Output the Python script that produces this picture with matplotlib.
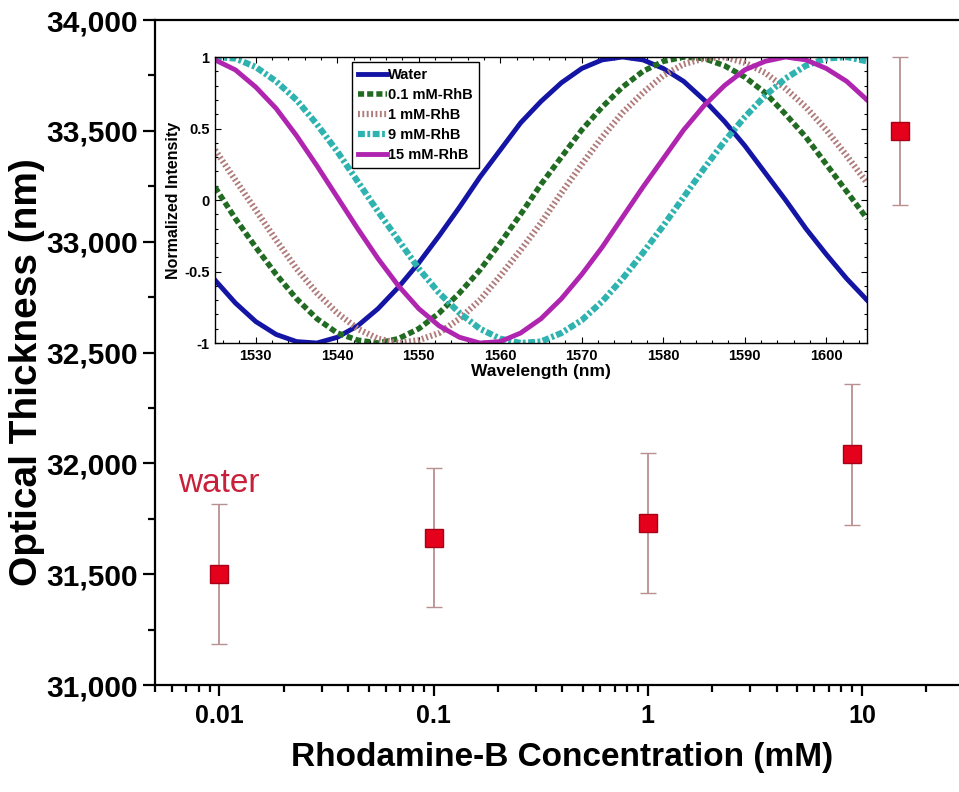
import numpy as np
import matplotlib
matplotlib.use("Agg")
import matplotlib.pyplot as plt
from matplotlib.ticker import MultipleLocator, FuncFormatter, LogLocator, NullFormatter

plt.rcParams['font.family'] = ['Liberation Sans', 'DejaVu Sans']
plt.rcParams['font.weight'] = 'bold'
plt.rcParams['axes.labelweight'] = 'bold'

# main plot: optical thickness vs concentration
conc = [0.01, 0.1, 1, 9, 15]
thickness = [31500, 31665, 31730, 32040, 33500]
thickness_err = [315, 315, 315, 320, 335]

# inset: normalized spectra (read every 2.5 nm)
wavelength = np.arange(1525, 1607.5, 2.5)
spec_water = [-0.56, -0.72, -0.85, -0.94, -0.99, -1.00, -0.96, -0.88, -0.76, -0.61, -0.44,
              -0.25, -0.05, 0.16, 0.35, 0.54, 0.69, 0.82, 0.92, 0.98, 1.00, 0.98, 0.92,
              0.83, 0.70, 0.55, 0.38, 0.19, -0.00, -0.20, -0.38, -0.55, -0.70]
spec_01 = [0.09, -0.13, -0.33, -0.52, -0.69, -0.83, -0.93, -0.98, -1.00, -0.97, -0.90,
           -0.79, -0.65, -0.49, -0.30, -0.10, 0.11, 0.30, 0.49, 0.65, 0.79, 0.90, 0.97,
           1.00, 0.99, 0.94, 0.86, 0.75, 0.60, 0.44, 0.25, 0.06, -0.13]
spec_1 = [0.35, 0.14, -0.07, -0.28, -0.48, -0.65, -0.79, -0.90, -0.97, -1.00, -0.98,
          -0.93, -0.83, -0.70, -0.53, -0.35, -0.16, 0.05, 0.25, 0.44, 0.61, 0.75, 0.87,
          0.95, 0.99, 1.00, 0.96, 0.89, 0.78, 0.65, 0.49, 0.31, 0.12]
spec_9 = [1.00, 0.99, 0.93, 0.83, 0.70, 0.53, 0.34, 0.13, -0.08, -0.28, -0.48,
          -0.65, -0.79, -0.90, -0.97, -1.00, -0.99, -0.93, -0.84, -0.71, -0.55, -0.37, -0.18,
          0.02, 0.22, 0.41, 0.58, 0.73, 0.85, 0.94, 0.99, 1.00, 0.97]
spec_15 = [0.98, 0.91, 0.79, 0.64, 0.45, 0.24, 0.02, -0.20, -0.41, -0.60, -0.76,
           -0.88, -0.96, -1.00, -0.99, -0.93, -0.83, -0.69, -0.52, -0.33, -0.12, 0.09, 0.29,
           0.49, 0.66, 0.80, 0.91, 0.97, 1.00, 0.98, 0.92, 0.83, 0.70]
inset_labels = ['Water', '0.1 mM-RhB', '1 mM-RhB', '9 mM-RhB', '15 mM-RhB']

fig = plt.figure(figsize=(9.59, 7.92), dpi=100)
ax = fig.add_axes([0.1616, 0.1351, 0.8436, 0.8396])

ax.errorbar(conc, thickness, yerr=thickness_err, fmt='s', ms=13,
            mfc='#e5001b', mec='#a80018', mew=1,
            ecolor='#b89090', elinewidth=1.3, capsize=6, capthick=1.3, zorder=3)

ax.set_xscale('log')
ax.set_xlim(0.005, 30)
ax.set_ylim(31000, 34000)
ax.set_xticks([0.01, 0.1, 1, 10], labels=['0.01', '0.1', '1', '10'])
ax.xaxis.set_minor_locator(LogLocator(base=10, subs=range(2, 10)))
ax.xaxis.set_minor_formatter(NullFormatter())
ax.yaxis.set_major_locator(MultipleLocator(500))
ax.yaxis.set_minor_locator(MultipleLocator(250))
ax.yaxis.set_major_formatter(FuncFormatter(lambda v, p: f'{int(v):,}'))

ax.tick_params(axis='y', which='major', direction='out', length=9, width=1.6,
               labelsize=21.5, pad=3)
ax.tick_params(axis='y', which='minor', direction='out', length=5, width=1.6)
ax.tick_params(axis='x', which='major', direction='out', length=8, width=1.6,
               labelsize=18, pad=6)
ax.tick_params(axis='x', which='minor', direction='out', length=5, width=1.6)
for s in ['left', 'bottom', 'top']:
    ax.spines[s].set_linewidth(1.6)
ax.spines['right'].set_visible(False)

ax.set_xlabel('Rhodamine-B Concentration (mM)', fontsize=24, fontweight='bold')
ax.xaxis.set_label_coords(0.503, -0.086)
ax.set_ylabel('Optical Thickness (nm)', fontsize=28, fontweight='bold')
ax.yaxis.set_label_coords(-0.136, 0.47)

ax.text(0.0064, 31910, 'water', color='#c8203a', fontsize=24, fontweight='normal',
        va='center', ha='left')

# inset
axin = fig.add_axes([0.2242, 0.5669, 0.6799, 0.3611])
axin.plot(wavelength, spec_water, color='#1515a5', lw=3.5, label=inset_labels[0],
          solid_joinstyle='round')
axin.plot(wavelength, spec_01, color='#226b22', lw=4, ls=(0, (1.1, 0.55)), label=inset_labels[1])
axin.plot(wavelength, spec_1, color='#b07b7b', lw=4.5, ls=(0, (0.3, 0.4)), label=inset_labels[2])
axin.plot(wavelength, spec_9, color='#2fb3b0', lw=4.5, ls=(0, (1.1, 0.4, 0.45, 0.4)), label=inset_labels[3])
axin.plot(wavelength, spec_15, color='#b025b0', lw=3.5, label=inset_labels[4],
          solid_joinstyle='round')

axin.set_xlim(1525, 1605)
axin.set_ylim(-1, 1)
axin.set_xticks(np.arange(1530, 1601, 10))
axin.xaxis.set_minor_locator(MultipleLocator(2))
axin.set_yticks([-1, -0.5, 0, 0.5, 1], labels=['-1', '-0.5', '0', '0.5', '1'])
axin.yaxis.set_minor_locator(MultipleLocator(0.1))
axin.tick_params(which='both', direction='in', top=True, right=True, width=0.8,
                 labelsize=10.5, pad=4)
axin.tick_params(which='major', length=4)
axin.tick_params(which='minor', length=2)
for s in axin.spines.values():
    s.set_linewidth(1)
axin.set_xlabel('Wavelength (nm)', fontsize=12.5, fontweight='bold', labelpad=1)
axin.set_ylabel('Normalized Intensity', fontsize=11.5, fontweight='bold', labelpad=2)

leg = axin.legend(loc='upper left', bbox_to_anchor=(0.21, 0.9825), borderaxespad=0,
                  fontsize=10.5, fancybox=False, edgecolor='black', framealpha=1,
                  handlelength=2.0, handletextpad=0.1, labelspacing=0.42, borderpad=0.4)
leg.get_frame().set_linewidth(1)

fig.savefig('out.png', dpi=100)
